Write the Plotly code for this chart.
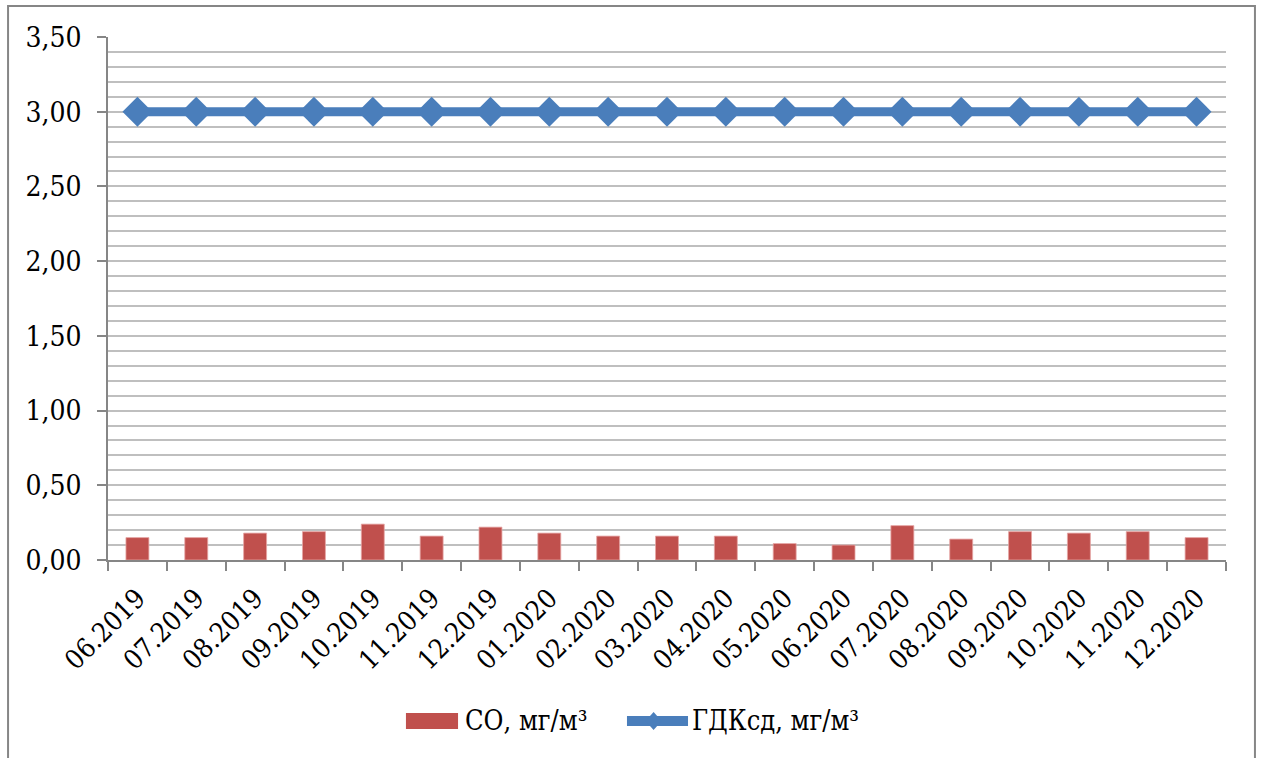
import plotly.graph_objects as go

months = ["06.2019", "07.2019", "08.2019", "09.2019", "10.2019", "11.2019", "12.2019",
          "01.2020", "02.2020", "03.2020", "04.2020", "05.2020", "06.2020", "07.2020",
          "08.2020", "09.2020", "10.2020", "11.2020", "12.2020"]
co_values = [0.15, 0.15, 0.18, 0.19, 0.24, 0.16, 0.22,
             0.18, 0.16, 0.16, 0.16, 0.11, 0.10, 0.23,
             0.14, 0.19, 0.18, 0.19, 0.15]
limit_values = [3.0] * len(months)
legend_names = ["СО, мг/м³", "ГДКсд, мг/м³"]

serif = "DejaVu Serif Condensed"
axis_gray = "#868686"
grid_gray = "#bfbfbf"
bar_red = "#c0504d"
line_blue = "#4a7ebb"

fig = go.Figure()
fig.add_trace(go.Bar(
    x=months, y=co_values, name=legend_names[0],
    marker=dict(color=bar_red, line=dict(color="#e6a6a5", width=0.8)),
))
fig.add_trace(go.Scatter(
    x=months, y=limit_values, name=legend_names[1],
    mode="lines+markers",
    line=dict(color=line_blue, width=9),
    marker=dict(symbol="diamond", size=23, color=line_blue),
))

# Legend drawn below the plot: wide swatch for bars, line with a diamond for the limit
leg_y = -0.3078
legend_shapes = [
    dict(type="rect", xref="paper", yref="paper",
         x0=0.2665, x1=0.3131, y0=-0.3231, y1=-0.2925,
         fillcolor=bar_red, line=dict(width=0)),
    dict(type="line", xref="paper", yref="paper",
         x0=0.4642, x1=0.5188, y0=leg_y, y1=leg_y,
         line=dict(color=line_blue, width=10)),
    dict(type="path", xref="paper", yref="paper",
         path=f"M 0.4808 {leg_y} L 0.4880 {leg_y + 0.0172} L 0.4952 {leg_y} "
              f"L 0.4880 {leg_y - 0.0172} Z",
         fillcolor=line_blue, line=dict(width=0)),
]
legend_texts = [
    dict(xref="paper", yref="paper", x=0.3175, y=leg_y, xanchor="left", yanchor="middle",
         text=legend_names[0], showarrow=False,
         font=dict(family=serif, size=27, color="black")),
    dict(xref="paper", yref="paper", x=0.5206, y=leg_y, xanchor="left", yanchor="middle",
         text=legend_names[1], showarrow=False,
         font=dict(family=serif, size=27, color="black")),
]

fig.update_layout(
    width=1261, height=758,
    margin=dict(l=108, r=35, t=37, b=198),
    paper_bgcolor="white", plot_bgcolor="white",
    separators=", ",
    bargap=0.61,
    font=dict(family=serif, color="black", size=26),
    showlegend=False,
    xaxis=dict(
        type="category",
        range=[-0.5, len(months) - 0.5],
        autorange=False,
        automargin=False,
        tickangle=-45,
        tickson="boundaries",
        ticks="outside", ticklen=9, tickcolor=axis_gray, tickwidth=1.5,
        showline=True, linecolor=axis_gray, linewidth=1.5,
        showgrid=False,
        ticklabelstandoff=10,
        tickfont=dict(family=serif, size=27, color="black"),
    ),
    yaxis=dict(
        range=[0, 3.5], dtick=0.5, tickformat=".2f",
        automargin=False,
        ticks="outside", ticklen=9, tickcolor=axis_gray, tickwidth=1.5,
        showline=True, linecolor=axis_gray, linewidth=1.5,
        showgrid=True, gridcolor=grid_gray, gridwidth=1.5,
        minor=dict(dtick=0.1, showgrid=True, gridcolor=grid_gray, gridwidth=1.5, ticks=""),
        zeroline=False,
        ticklabelstandoff=10,
        tickfont=dict(family=serif, size=28, color="black"),
    ),
    shapes=[dict(
        type="rect", xref="paper", yref="paper",
        x0=-0.0894, x1=1.0259, y0=-0.42, y1=1.0593,
        line=dict(color=axis_gray, width=2), fillcolor="rgba(0,0,0,0)",
        layer="below",
    )] + legend_shapes,
    annotations=legend_texts,
)

fig.write_html("out.html")
